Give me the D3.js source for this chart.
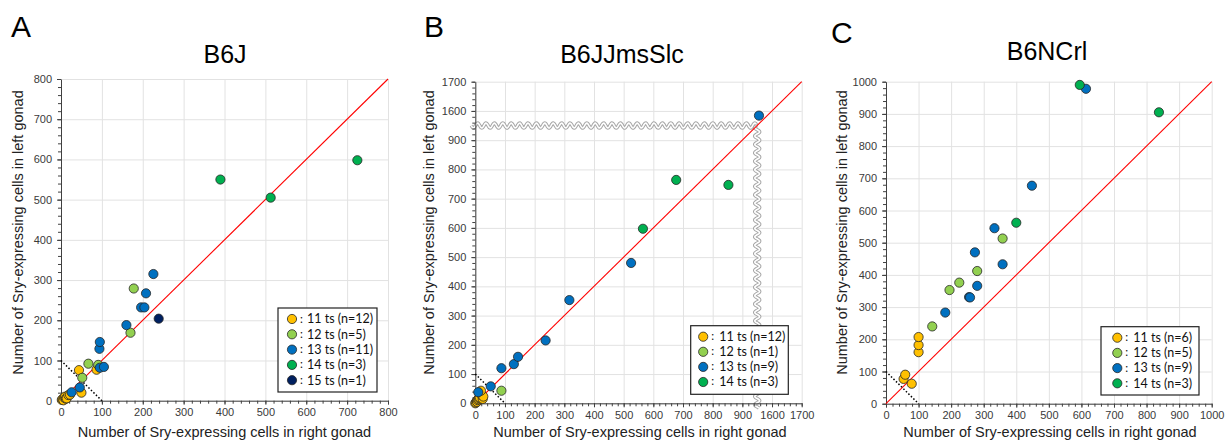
<!DOCTYPE html>
<html>
<head>
<meta charset="utf-8">
<script src="https://cdn.jsdelivr.net/npm/d3@7"></script>
<style>
  body { margin: 0; background: #fff; }
  svg { display: block; }
</style>
</head>
<body>
<script>
const WIDTH = 1225;
const HEIGHT = 442;

// stages shown in the legends
const stages = ["11 ts", "12 ts", "13 ts", "14 ts", "15 ts"];
const stageColors = ["#FFC000", "#92D050", "#0070C0", "#00B050", "#002060"];

// [right gonad, left gonad] per embryo
const b6j11 = [[2, 2], [4, 4], [6, 1], [8, 8], [10, 10], [12, 5], [14, 6], [18, 14], [22, 15], [44, 76], [87, 77], [50, 20]];
const b6j12 = [[52, 57], [67, 92], [91, 89], [170, 169], [178, 279]];
const b6j13 = [[26, 21], [46, 33], [95, 82], [105, 84], [94, 129], [95, 146], [160, 188], [196, 232], [204, 232], [208, 267], [226, 315]];
const b6j14 = [[390, 550], [513, 505], [725, 598]];
const b6j15 = [[239, 204]];

const jms11 = [[0, 0], [2, 3], [5, 8], [6, 5], [8, 11], [10, 14], [12, 18], [15, 20], [25, 15], [22, 28], [27, 23], [19, 43]];
const jms12 = [[88, 43]];
const jms13 = [[10, 38], [52, 58], [88, 120], [130, 134], [144, 159], [237, 215], [317, 353], [525, 480], [1556, 1584]];
const jms14 = [[565, 597], [677, 764], [853, 747]];

const ncrl11 = [[54, 77], [59, 90], [79, 62], [100, 160], [100, 182], [100, 207]];
const ncrl12 = [[142, 240], [195, 353], [225, 376], [280, 412], [358, 513]];
const ncrl13 = [[182, 283], [255, 331], [258, 330], [280, 366], [358, 433], [273, 470], [333, 545], [448, 677], [614, 978]];
const ncrl14 = [[400, 562], [595, 990], [838, 905]];

// axis ticks
const ticksA = d3.range(0, 801, 100);
const ticksB = [0, 100, 200, 300, 400, 500, 600, 700, 800, 900, 1600, 1700];
const ticksC = d3.range(0, 1001, 100);

const font = "'Liberation Sans', Arial, sans-serif";
const legendFont = "Lato, 'Open Sans', sans-serif";
const xTitle = "Number of Sry-expressing cells in right gonad";
const yTitle = "Number of Sry-expressing cells in left gonad";

const svg = d3.select("body").append("svg")
    .attr("width", WIDTH)
    .attr("height", HEIGHT);

svg.append("rect").attr("width", WIDTH).attr("height", HEIGHT).attr("fill", "#fff");

const panels = [
    {
        letter: "A", letterX: 11, letterY: 37,
        title: "B6J", titleX: 225, titleY: 63,
        box: [61, 388, 79, 400.7],
        domain: [0, 800],
        ticks: ticksA, minor: d3.range(0, 801, 20),
        series: [b6j11, b6j12, b6j13, b6j14, b6j15],
        legend: { x: 278, y: 308, w: 99, h: 84, row: 15.3, cx: 14, tx: 29 },
        yLabelX: 22.5, xLabelX: 224.5
    },
    {
        letter: "B", letterX: 424, letterY: 37,
        title: "B6JJmsSlc", titleX: 622, titleY: 63,
        box: [475.3, 801.7, 81.7, 403.3],
        breakAxis: true,
        ticks: ticksB, minor: d3.range(0, 941, 20).concat(d3.range(1560, 1701, 20)),
        series: [jms11, jms12, jms13, jms14],
        legend: { x: 690.7, y: 325.7, w: 97.6, h: 68.6, row: 15.1, cx: 12.5, tx: 28.5 },
        yLabelX: 433.5, xLabelX: 640
    },
    {
        letter: "C", letterX: 831, letterY: 43,
        title: "B6NCrl", titleX: 1047, titleY: 60,
        box: [886, 1211.7, 81.7, 403.7],
        domain: [0, 1000],
        ticks: ticksC, minor: d3.range(0, 1001, 20),
        series: [ncrl11, ncrl12, ncrl13, ncrl14],
        legend: { x: 1101, y: 326.7, w: 98, h: 68.3, row: 15.2, cx: 16.3, tx: 32.3 },
        yLabelX: 847, xLabelX: 1050
    }
];

function wavy(x1, y1, x2, y2, amp, period) {
    const len = Math.hypot(x2 - x1, y2 - y1);
    const ux = (x2 - x1) / len, uy = (y2 - y1) / len;
    const pts = [];
    for (let s = 0; s <= len; s += 0.5) {
        const o = amp * Math.sin(2 * Math.PI * s / period);
        pts.push([x1 + ux * s - uy * o, y1 + uy * s + ux * o]);
    }
    return d3.line()(pts);
}

panels.forEach(p => {
    const [x0, x1, yT, yB] = p.box;
    let xScale, yScale;
    if (p.breakAxis) {
        // 0..900 | break | 1600..1700, break drawn halfway between 900 and 1600
        const ux = (x1 - x0) / 11, uy = (yB - yT) / 11;
        xScale = d3.scaleLinear().domain([0, 950, 1550, 1700])
            .range([x0, x0 + 9.5 * ux, x0 + 9.5 * ux, x1]);
        yScale = d3.scaleLinear().domain([0, 950, 1550, 1700])
            .range([yB, yB - 9.5 * uy, yB - 9.5 * uy, yT]);
    } else {
        xScale = d3.scaleLinear().domain(p.domain).range([x0, x1]);
        yScale = d3.scaleLinear().domain(p.domain).range([yB, yT]);
    }
    const g = svg.append("g");

    // gridlines
    g.append("g").attr("transform", "translate(0," + yB + ")")
        .call(d3.axisBottom(xScale).tickValues(p.ticks).tickSize(-(yB - yT)).tickFormat(""))
        .call(s => s.select(".domain").remove())
        .call(s => s.selectAll("line").attr("stroke", "#e2e2e2"));
    g.append("g").attr("transform", "translate(" + x0 + ",0)")
        .call(d3.axisLeft(yScale).tickValues(p.ticks).tickSize(-(x1 - x0)).tickFormat(""))
        .call(s => s.select(".domain").remove())
        .call(s => s.selectAll("line").attr("stroke", "#e2e2e2"));

    // broken-axis marks
    if (p.breakAxis) {
        const bx = xScale(950), by = yScale(950);
        const hw = wavy(x0 - 4, by, bx, by, 2.4, 8.4);
        const vw = wavy(bx, by, bx, yB + 5, 2.4, 8.4);
        [hw, vw].forEach(d => {
            g.append("path").attr("d", d).attr("fill", "none")
                .attr("stroke", "#a6a6a6").attr("stroke-width", 3.6);
            g.append("path").attr("d", d).attr("fill", "none")
                .attr("stroke", "#fff").attr("stroke-width", 1.6);
        });
    }

    // axes
    g.append("g").attr("transform", "translate(0," + yB + ")")
        .call(d3.axisBottom(xScale).tickValues(p.ticks).tickSize(4).tickSizeOuter(0).tickPadding(4).tickFormat(d3.format("d")));
    g.append("g").attr("transform", "translate(0," + yB + ")")
        .call(d3.axisBottom(xScale).tickValues(p.minor).tickSize(3).tickFormat(""))
        .call(s => s.select(".domain").remove());
    g.append("g").attr("transform", "translate(" + x0 + ",0)")
        .call(d3.axisLeft(yScale).tickValues(p.ticks).tickSize(4).tickSizeOuter(0).tickPadding(5).tickFormat(d3.format("d")));
    g.append("g").attr("transform", "translate(" + x0 + ",0)")
        .call(d3.axisLeft(yScale).tickValues(p.minor).tickSize(3).tickFormat(""))
        .call(s => s.select(".domain").remove());
    g.selectAll("text").attr("font-family", font).attr("font-size", 11).attr("fill", "#3a3a3a");
    g.selectAll(".domain, .tick line").filter(function () { return this.getAttribute("stroke") !== "#e2e2e2"; })
        .attr("stroke", "#404040");

    // diagonal and dotted reference line
    const top = xScale.domain()[xScale.domain().length - 1];
    g.append("line")
        .attr("x1", xScale(0)).attr("y1", yScale(0))
        .attr("x2", xScale(top)).attr("y2", yScale(top))
        .attr("stroke", "#ff0000").attr("stroke-width", 1.1);
    g.append("line")
        .attr("x1", xScale(0)).attr("y1", yScale(100))
        .attr("x2", xScale(100)).attr("y2", yScale(0))
        .attr("stroke", "#000").attr("stroke-width", 1.5).attr("stroke-dasharray", "1.5,2");

    // points
    p.series.forEach((data, i) => {
        g.append("g").selectAll("circle").data(data).join("circle")
            .attr("cx", d => xScale(d[0]))
            .attr("cy", d => yScale(d[1]))
            .attr("r", 4.6)
            .attr("fill", stageColors[i])
            .attr("stroke", "#262626")
            .attr("stroke-width", 0.8);
    });

    // legend
    const L = p.legend;
    const lg = g.append("g").attr("transform", "translate(" + L.x + "," + L.y + ")");
    lg.append("rect").attr("width", L.w).attr("height", L.h)
        .attr("fill", "#fff").attr("stroke", "#222").attr("stroke-width", 1.2);
    p.series.forEach((data, i) => {
        const cy = 11 + i * L.row;
        lg.append("circle").attr("cx", L.cx).attr("cy", cy).attr("r", 4.6)
            .attr("fill", stageColors[i]).attr("stroke", "#262626").attr("stroke-width", 0.8);
        lg.append("text").attr("x", L.cx + 8).attr("y", cy + 3.5)
            .attr("font-family", legendFont).attr("font-size", 11.5).attr("fill", "#111").text(":");
        lg.append("text").attr("x", L.tx).attr("y", cy + 4.4)
            .attr("font-family", legendFont).attr("font-size", 12.5).attr("fill", "#111")
            .text(stages[i] + " (n=" + data.length + ")");
    });

    // titles and labels
    svg.append("text").attr("x", p.letterX).attr("y", p.letterY)
        .attr("font-family", font).attr("font-size", 30).text(p.letter);
    svg.append("text").attr("x", p.titleX).attr("y", p.titleY).attr("text-anchor", "middle")
        .attr("font-family", font).attr("font-size", 25).text(p.title);
    svg.append("text").attr("x", p.xLabelX).attr("y", 437).attr("text-anchor", "middle")
        .attr("font-family", font).attr("font-size", 14.5).attr("fill", "#222").text(xTitle);
    svg.append("text").attr("transform", "translate(" + p.yLabelX + ",232.5) rotate(-90)")
        .attr("text-anchor", "middle")
        .attr("font-family", font).attr("font-size", 14.5).attr("fill", "#222").text(yTitle);
});
</script>
</body>
</html>
